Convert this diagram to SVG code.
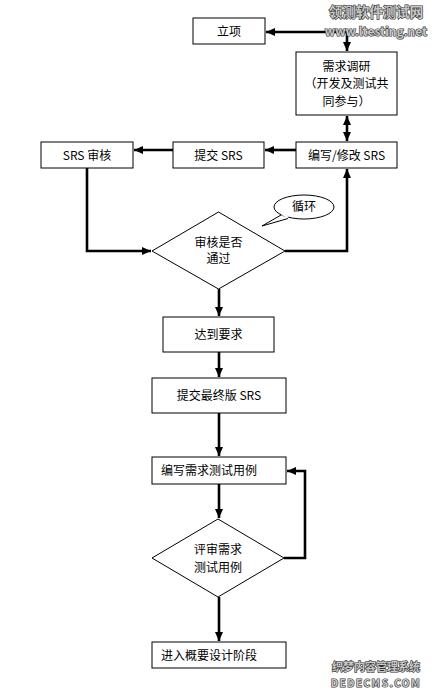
<svg xmlns="http://www.w3.org/2000/svg" width="437" height="695" viewBox="0 0 437 695">
<style>
.box{fill:#fff;stroke:#000;stroke-width:1}
.t{font-family:"Noto Sans CJK SC","Liberation Sans",sans-serif;font-size:12px;fill:#000}
.c{text-anchor:middle}
.ln{fill:none;stroke:#000;stroke-width:2.6}
.wm{font-family:"Noto Sans CJK SC","Liberation Sans",sans-serif;font-weight:bold;fill:#c8c8c8;stroke:#333;stroke-width:1.2;paint-order:stroke;text-anchor:middle}
</style>
<defs>
<marker id="ah" markerUnits="userSpaceOnUse" markerWidth="10" markerHeight="10" viewBox="0 0 10 10" refX="9" refY="5" orient="auto-start-reverse">
<path d="M0,1 L9,5 L0,9 Z" fill="#000"/>
</marker>
</defs>
<rect width="437" height="695" fill="#fff"/>

<g id="connectors">
<path class="ln" d="M347,32 H266" marker-end="url(#ah)"/>
<path class="ln" d="M347,32 V51" marker-end="url(#ah)"/>
<path class="ln" d="M347,116 V141" marker-start="url(#ah)" marker-end="url(#ah)"/>
<path class="ln" d="M296,150 H265" marker-end="url(#ah)"/>
<path class="ln" d="M173,150 H134" marker-end="url(#ah)"/>
<path class="ln" d="M87,168 V251 H151" marker-end="url(#ah)"/>
<path class="ln" d="M285,251 H347 V169" marker-end="url(#ah)"/>
<path class="ln" d="M219,289 V316" marker-end="url(#ah)"/>
<path class="ln" d="M219,352 V377" marker-end="url(#ah)"/>
<path class="ln" d="M219,413 V456" marker-end="url(#ah)"/>
<path class="ln" d="M219,484 V518" marker-end="url(#ah)"/>
<path class="ln" d="M284,558 H305 V471 H287" marker-end="url(#ah)"/>
<path class="ln" d="M219,597 V641" marker-end="url(#ah)"/>
</g>

<g id="n-lixiang">
<rect class="box" x="193" y="18" width="72" height="26"/>
<text class="t c" x="229" y="36">立项</text>
</g>
<g id="n-xuqiu">
<rect class="box" x="296" y="52" width="101" height="63"/>
<text class="t c" x="346.5" y="71">需求调研</text>
<text class="t c" x="346.5" y="88">（开发及测试共</text>
<text class="t c" x="346.5" y="106">同参与）</text>
</g>
<g id="n-bianxie">
<rect class="box" x="296" y="142" width="101" height="26"/>
<text class="t c" x="346.5" y="160">编写/修改 SRS</text>
</g>
<g id="n-tijiao">
<rect class="box" x="173" y="142" width="91" height="26"/>
<text class="t c" x="218.5" y="160">提交 SRS</text>
</g>
<g id="n-shenhe">
<rect class="box" x="41" y="142" width="92" height="26"/>
<text class="t c" x="87" y="160">SRS 审核</text>
</g>
<g id="n-decision1">
<polygon class="box" points="218.5,212 285,251 218.5,289 152,251"/>
<text class="t c" x="218.5" y="247">审核是否</text>
<text class="t c" x="218.5" y="263">通过</text>
</g>
<g id="n-callout">
<path class="box" d="M281,215 L262,226 L288,218.5"/>
<ellipse class="box" cx="304" cy="207" rx="30" ry="12"/>
<path d="M282,214 L288,217.5" stroke="#fff" stroke-width="2"/>
<text class="t c" x="304" y="211">循环</text>
</g>
<g id="n-dadao">
<rect class="box" x="163" y="317" width="111" height="35"/>
<text class="t c" x="218.5" y="339">达到要求</text>
</g>
<g id="n-final">
<rect class="box" x="152" y="378" width="134" height="35"/>
<text class="t c" x="219" y="400">提交最终版 SRS</text>
</g>
<g id="n-testcase">
<rect class="box" x="152" y="457" width="134" height="27"/>
<text class="t" x="161" y="475">编写需求测试用例</text>
</g>
<g id="n-decision2">
<polygon class="box" points="218,519 284,558 218,597 152,558"/>
<text class="t c" x="218" y="554">评审需求</text>
<text class="t c" x="218" y="572">测试用例</text>
</g>
<g id="n-next">
<rect class="box" x="152" y="642" width="134" height="26"/>
<text class="t" x="161" y="660">进入概要设计阶段</text>
</g>

<g id="watermarks">
<text class="wm" x="376" y="17" font-size="13.5">领测软件测试网</text>
<text class="wm" x="376" y="36" font-size="12">www.ltesting.net</text>
<text class="wm" x="376" y="671" font-size="11">织梦内容管理系统</text>
<text class="wm" x="376" y="687" font-size="10" letter-spacing="1.5">DEDECMS.COM</text>
</g>
</svg>
